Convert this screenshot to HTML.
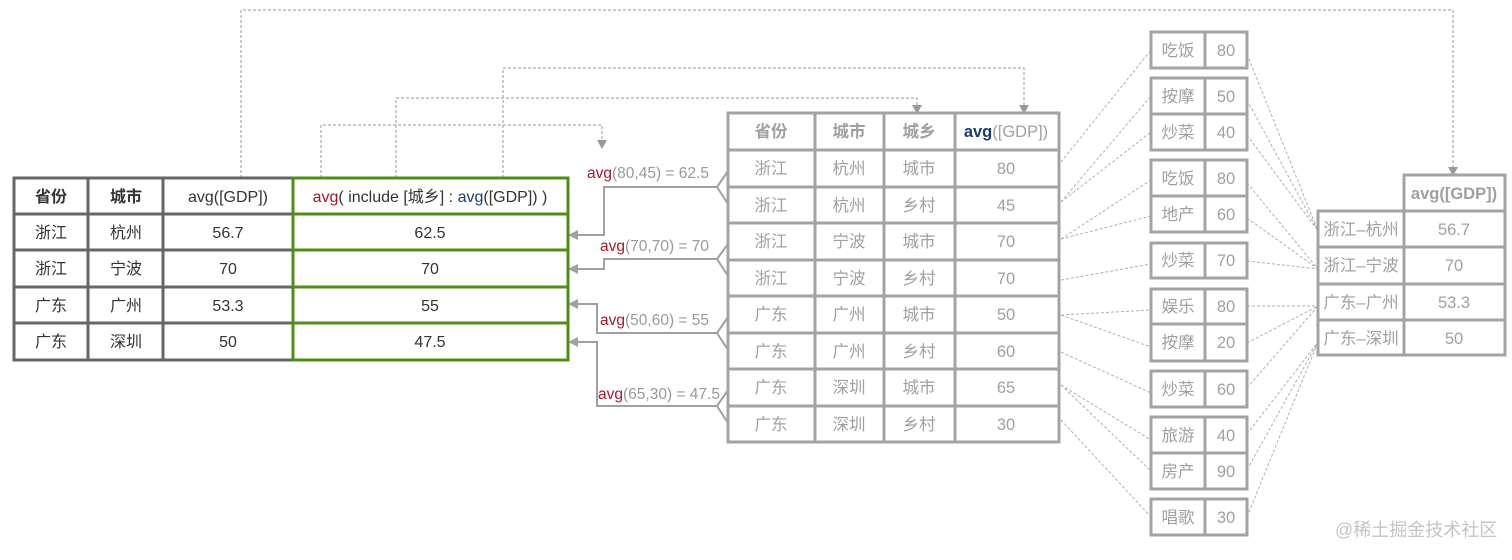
<!DOCTYPE html>
<html><head><meta charset="utf-8"><style>
html,body{margin:0;padding:0;background:#fff;}
svg{display:block;}
text{font-family:"Liberation Sans","Noto Sans CJK SC",sans-serif;}
</style></head><body>
<svg width="1512" height="560" viewBox="0 0 1512 560" xmlns="http://www.w3.org/2000/svg">
<!-- dashed top connectors -->
<g fill="none" stroke="#aaa" stroke-width="1.2" stroke-dasharray="3,2">
<path d="M241,178 V10 H1453 V168"/>
<path d="M503,178 V68 H1024 V106"/>
<path d="M396,178 V98 H917 V106"/>
<path d="M321,178 V125 H602 V141"/>
</g>
<g fill="#999">
<path d="M1448,167 L1458,167 L1453,176 Z"/>
<path d="M1019,105 L1029,105 L1024,114 Z"/>
<path d="M912,105 L922,105 L917,114 Z"/>
<path d="M597,140 L607,140 L602,149 Z"/>
</g>
<!-- dashed fan lines -->
<g fill="none" stroke="#b0b0b0" stroke-width="1" stroke-dasharray="3,2">
<path d="M1061,162 L1151,50"/>
<path d="M1061,202 L1151,96 M1061,202 L1151,132"/>
<path d="M1061,239 L1151,180 M1061,239 L1151,216"/>
<path d="M1061,280 L1151,264"/>
<path d="M1061,315 L1151,310 M1061,315 L1151,347"/>
<path d="M1061,352 L1151,393"/>
<path d="M1061,385 L1151,440 M1061,385 L1151,471"/>
<path d="M1061,420 L1151,517"/>
<path d="M1247,54 L1318,231 M1247,100 L1318,231 M1247,135 L1318,231"/>
<path d="M1247,183 L1318,269 M1247,218 L1318,269 M1247,261 L1318,269"/>
<path d="M1247,306 L1318,306 M1247,343 L1318,306 M1247,388 L1318,306"/>
<path d="M1247,434 L1318,342 M1247,470 L1318,342 M1247,517 L1318,342"/>
</g>
<!-- solid bracket connectors -->
<g fill="none" stroke="#a0a0a0" stroke-width="2">
<path d="M728,171 L717,187 L728,204 M717,187 H604 V235 H576"/>
<path d="M728,244 L717,259 L728,276 M717,259 H604 V269 H576"/>
<path d="M728,317 L717,333 L728,350 M717,333 H597 V304 H576"/>
<path d="M728,390 L717,406 L728,423 M717,406 H597 V342 H576"/>
</g>
<g fill="#a0a0a0">
<path d="M568,235 L578,230 L578,240 Z"/>
<path d="M568,269 L578,264 L578,274 Z"/>
<path d="M568,304 L578,299 L578,309 Z"/>
<path d="M568,342 L578,337 L578,347 Z"/>
</g>
<g font-size="15.5" fill="#999">
<text x="587" y="178"><tspan fill="#a8142c">avg</tspan>(80,45) = 62.5</text>
<text x="600" y="251"><tspan fill="#a8142c">avg</tspan>(70,70) = 70</text>
<text x="600" y="325"><tspan fill="#a8142c">avg</tspan>(50,60) = 55</text>
<text x="598" y="399"><tspan fill="#a8142c">avg</tspan>(65,30) = 47.5</text>
</g>
<!-- left table -->
<g fill="#fff" stroke="#666" stroke-width="3">
<rect x="14" y="178" width="279" height="182"/>
<path d="M88,178 V360 M163,178 V360 M14,214 H293 M14,250 H293 M14,287 H293 M14,323 H293"/>
</g>
<g fill="#fff" stroke="#4e8f14" stroke-width="3">
<rect x="293" y="178" width="275" height="182"/>
<path d="M293,214 H568 M293,250 H568 M293,287 H568 M293,323 H568"/>
</g>
<g font-size="16" fill="#333" text-anchor="middle">
<text x="51" y="202" font-weight="bold">省份</text><text x="126" y="202" font-weight="bold">城市</text>
<text x="228" y="202">avg([GDP])</text>
<text x="430" y="202"><tspan fill="#a8142c">avg</tspan>( include [城乡] : <tspan fill="#1a3c78">avg</tspan>([GDP]) )</text>
<text x="51" y="238">浙江</text><text x="126" y="238">杭州</text><text x="228" y="238">56.7</text><text x="430" y="238">62.5</text>
<text x="51" y="274">浙江</text><text x="126" y="274">宁波</text><text x="228" y="274">70</text><text x="430" y="274">70</text>
<text x="51" y="311">广东</text><text x="126" y="311">广州</text><text x="228" y="311">53.3</text><text x="430" y="311">55</text>
<text x="51" y="347">广东</text><text x="126" y="347">深圳</text><text x="228" y="347">50</text><text x="430" y="347">47.5</text>
</g>
<!-- middle table -->
<g fill="#fff" stroke="#a3a3a3" stroke-width="3">
<rect x="728" y="113" width="331" height="329"/>
<path d="M815,113 V442 M884,113 V442 M955,113 V442 M728,150 H1059 M728,187 H1059 M728,223 H1059 M728,260 H1059 M728,296 H1059 M728,333 H1059 M728,369 H1059 M728,406 H1059"/>
</g>
<g font-size="16.5" fill="#a0a0a0" text-anchor="middle">
<text x="771" y="137" font-weight="bold">省份</text><text x="849" y="137" font-weight="bold">城市</text><text x="919" y="137" font-weight="bold">城乡</text>
<text x="1006" y="137"><tspan fill="#1a3c78" font-weight="bold">avg</tspan>([GDP])</text>
<text x="771" y="174">浙江</text><text x="849" y="174">杭州</text><text x="919" y="174">城市</text><text x="1006" y="174">80</text>
<text x="771" y="211">浙江</text><text x="849" y="211">杭州</text><text x="919" y="211">乡村</text><text x="1006" y="211">45</text>
<text x="771" y="247">浙江</text><text x="849" y="247">宁波</text><text x="919" y="247">城市</text><text x="1006" y="247">70</text>
<text x="771" y="284">浙江</text><text x="849" y="284">宁波</text><text x="919" y="284">乡村</text><text x="1006" y="284">70</text>
<text x="771" y="320">广东</text><text x="849" y="320">广州</text><text x="919" y="320">城市</text><text x="1006" y="320">50</text>
<text x="771" y="357">广东</text><text x="849" y="357">广州</text><text x="919" y="357">乡村</text><text x="1006" y="357">60</text>
<text x="771" y="393">广东</text><text x="849" y="393">深圳</text><text x="919" y="393">城市</text><text x="1006" y="393">65</text>
<text x="771" y="430">广东</text><text x="849" y="430">深圳</text><text x="919" y="430">乡村</text><text x="1006" y="430">30</text>
</g>
<!-- small boxes -->
<g fill="#fff" stroke="#a3a3a3" stroke-width="3">
<rect x="1151" y="32" width="96" height="36"/>
<rect x="1151" y="78" width="96" height="72"/><path d="M1151,114 H1247"/>
<rect x="1151" y="160" width="96" height="72"/><path d="M1151,196 H1247"/>
<rect x="1151" y="243" width="96" height="35"/>
<rect x="1151" y="289" width="96" height="72"/><path d="M1151,324 H1247"/>
<rect x="1151" y="371" width="96" height="36"/>
<rect x="1151" y="417" width="96" height="72"/><path d="M1151,453 H1247"/>
<rect x="1151" y="499" width="96" height="36"/>
<path d="M1205,32 V68 M1205,78 V150 M1205,160 V232 M1205,243 V278 M1205,289 V361 M1205,371 V407 M1205,417 V489 M1205,499 V535"/>
</g>
<g font-size="16.5" fill="#a0a0a0" text-anchor="middle">
<text x="1178" y="56">吃饭</text><text x="1226" y="56">80</text>
<text x="1178" y="102">按摩</text><text x="1226" y="102">50</text>
<text x="1178" y="138">炒菜</text><text x="1226" y="138">40</text>
<text x="1178" y="184">吃饭</text><text x="1226" y="184">80</text>
<text x="1178" y="220">地产</text><text x="1226" y="220">60</text>
<text x="1178" y="266">炒菜</text><text x="1226" y="266">70</text>
<text x="1178" y="312">娱乐</text><text x="1226" y="312">80</text>
<text x="1178" y="348">按摩</text><text x="1226" y="348">20</text>
<text x="1178" y="395">炒菜</text><text x="1226" y="395">60</text>
<text x="1178" y="441">旅游</text><text x="1226" y="441">40</text>
<text x="1178" y="477">房产</text><text x="1226" y="477">90</text>
<text x="1178" y="523">唱歌</text><text x="1226" y="523">30</text>
</g>
<!-- far right table -->
<g fill="#fff" stroke="#a3a3a3" stroke-width="3">
<rect x="1404" y="175" width="101" height="36"/>
<rect x="1318" y="211" width="187" height="144"/>
<path d="M1404,211 V355 M1318,247 H1505 M1318,284 H1505 M1318,320 H1505"/>
</g>
<g font-size="16.5" fill="#a0a0a0" text-anchor="middle">
<text x="1454" y="199" font-weight="bold">avg([GDP])</text>
<text x="1361" y="235">浙江–杭州</text><text x="1454" y="235">56.7</text>
<text x="1361" y="271">浙江–宁波</text><text x="1454" y="271">70</text>
<text x="1361" y="308">广东–广州</text><text x="1454" y="308">53.3</text>
<text x="1361" y="344">广东–深圳</text><text x="1454" y="344">50</text>
</g>
<text x="1335" y="536" font-size="18" fill="#c4c4c4">@稀土掘金技术社区</text>
</svg>
</body></html>
